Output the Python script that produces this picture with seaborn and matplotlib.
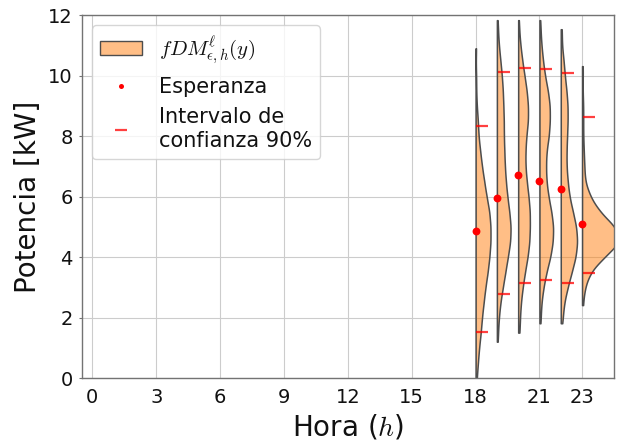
import numpy as np
import pandas as pd
import matplotlib
matplotlib.use("Agg")
import matplotlib.pyplot as plt
import seaborn as sns
from matplotlib.patches import Patch
from matplotlib.lines import Line2D

# ---------------- data ----------------
horas = [18, 19, 20, 21, 22, 23]
esperanza = [4.85, 5.95, 6.70, 6.51, 6.24, 5.09]
ic_inferior = [1.53, 2.78, 3.14, 3.24, 3.14, 3.46]
ic_superior = [8.33, 10.10, 10.26, 10.23, 10.07, 8.64]

# power levels (kW) and how many observations fall at each level, per hour
niveles = [0.0, 0.5, 1.0, 1.5, 2.0, 2.5, 3.0, 3.5, 4.0, 4.5, 5.0, 5.5, 6.0,
           6.5, 7.0, 7.5, 8.0, 8.5, 9.0, 9.5, 10.0, 10.5, 11.0, 11.5, 12.0]
conteos_18 = [2, 4, 6, 9, 11, 14, 17, 21, 24, 26, 26, 24, 19, 15, 11, 8, 5, 4, 2, 1, 1, 0, 0, 0, 0]
conteos_19 = [0, 0, 0, 2, 4, 7, 12, 17, 22, 27, 28, 25, 21, 18, 16, 15, 14, 14, 13, 12, 10, 7, 4, 2, 0]
conteos_20 = [0, 0, 0, 2, 4, 6, 10, 15, 21, 25, 26, 26, 23, 19, 16, 16, 18, 22, 22, 19, 14, 9, 5, 2, 0]
conteos_21 = [0, 0, 0, 0, 2, 4, 8, 14, 22, 27, 28, 24, 18, 14, 13, 14, 19, 21, 21, 17, 11, 7, 4, 2, 0]
conteos_22 = [0, 0, 0, 0, 3, 6, 12, 19, 26, 29, 27, 21, 15, 12, 10, 10, 11, 12, 12, 10, 7, 5, 2, 1, 0]
conteos_23 = [0, 0, 0, 0, 0, 1, 5, 14, 38, 68, 58, 30, 14, 5, 4, 3, 2, 2, 2, 1, 1, 0, 0, 0, 0]
minimos = [-0.5, 1.20, 1.51, 1.81, 1.81, 2.41]
maximos = [10.90, 11.83, 11.83, 11.83, 11.53, 10.31]

xticks = [0, 3, 6, 9, 12, 15, 18, 21, 23]
yticks = [0, 2, 4, 6, 8, 10, 12]

# ---------------- styling ----------------
sns.set_style("whitegrid")
plt.rcParams["font.family"] = ["DejaVu Sans"]
plt.rcParams["mathtext.fontset"] = "cm"

naranja = (1.0, 0.498, 0.055)
relleno = (1.0, 0.498, 0.055, 0.5)
borde = "#4d4d4d"
texto = "#111111"
ancho = 1.7  # violin width parameter (hours)

fig = plt.figure(figsize=(6.2, 4.4), dpi=100)
ax = fig.add_axes([0.1318, 0.1409, 0.8585, 0.825])

conteos = [conteos_18, conteos_19, conteos_20, conteos_21, conteos_22, conteos_23]
filas = []
for h, c, mn, mx in zip(horas, conteos, minimos, maximos):
    obs = list(np.repeat(niveles, c)) + [mn, mx]
    for v in obs:
        filas.append({"hora": h, "potencia": v})
df = pd.DataFrame(filas)
df["pos"] = df["hora"] + ancho / 2
df["grupo"] = "fDM"

sns.violinplot(
    data=df, x="pos", y="potencia", hue="grupo", hue_order=["_otro", "fDM"],
    palette={"_otro": naranja, "fDM": naranja}, split=True, dodge=False,
    native_scale=True, inner=None, cut=0, width=ancho, density_norm="area",
    bw_method=lambda k: 0.3 / np.std(k.dataset, ddof=1), saturation=1,
    linewidth=1.1, linecolor=borde, legend=False, ax=ax,
)
for coll in ax.collections:
    coll.set_facecolor(relleno)
    coll.set_edgecolor(borde)
    coll.set_zorder(2)

sns.scatterplot(x=horas, y=esperanza, color="red", s=32, linewidth=0,
                zorder=4, ax=ax, legend=False)
ax.plot(np.array(horas) + 0.32, ic_inferior, ls="none", marker="_", ms=9,
        mew=1.6, color="red", alpha=0.75, zorder=4)
ax.plot(np.array(horas) + 0.32, ic_superior, ls="none", marker="_", ms=9,
        mew=1.6, color="red", alpha=0.75, zorder=4)

ax.set_xlim(-0.5, 24.5)
ax.set_ylim(0, 12)
ax.set_xticks(xticks)
ax.set_xticklabels([str(t) for t in xticks])
ax.set_yticks(yticks)
ax.set_yticklabels([str(t) for t in yticks])
ax.grid(True, color="0.8", linewidth=0.8)
ax.set_axisbelow(True)
for s in ax.spines.values():
    s.set_color("0.45")
    s.set_linewidth(1.0)
ax.tick_params(axis="y", left=True, length=2.5, color="0.45", labelsize=14,
               pad=4, labelcolor=texto)
ax.tick_params(axis="x", bottom=False, length=0, labelsize=14, pad=7,
               labelcolor=texto)
ax.set_xlabel("Hora ($h$)", fontsize=20, color=texto)
ax.set_ylabel("Potencia [kW]", fontsize=20, color=texto)

handles = [
    Patch(facecolor=relleno, edgecolor=borde, linewidth=1.0),
    Line2D([], [], ls="none", marker="o", ms=3.6, mew=0, color="red"),
    Line2D([], [], ls="none", marker="_", ms=9, mew=1.6, color="red", alpha=0.75),
]
labels = [r"$fDM^{\ell}_{\epsilon,h}(y)$", "Esperanza", "Intervalo de\nconfianza 90%"]
leg = ax.legend(handles, labels, loc="upper left", fontsize=15, frameon=True,
                framealpha=0.8, edgecolor="0.8", fancybox=True)
for t in leg.get_texts():
    t.set_color(texto)

fig.savefig("out.png", dpi=100)
